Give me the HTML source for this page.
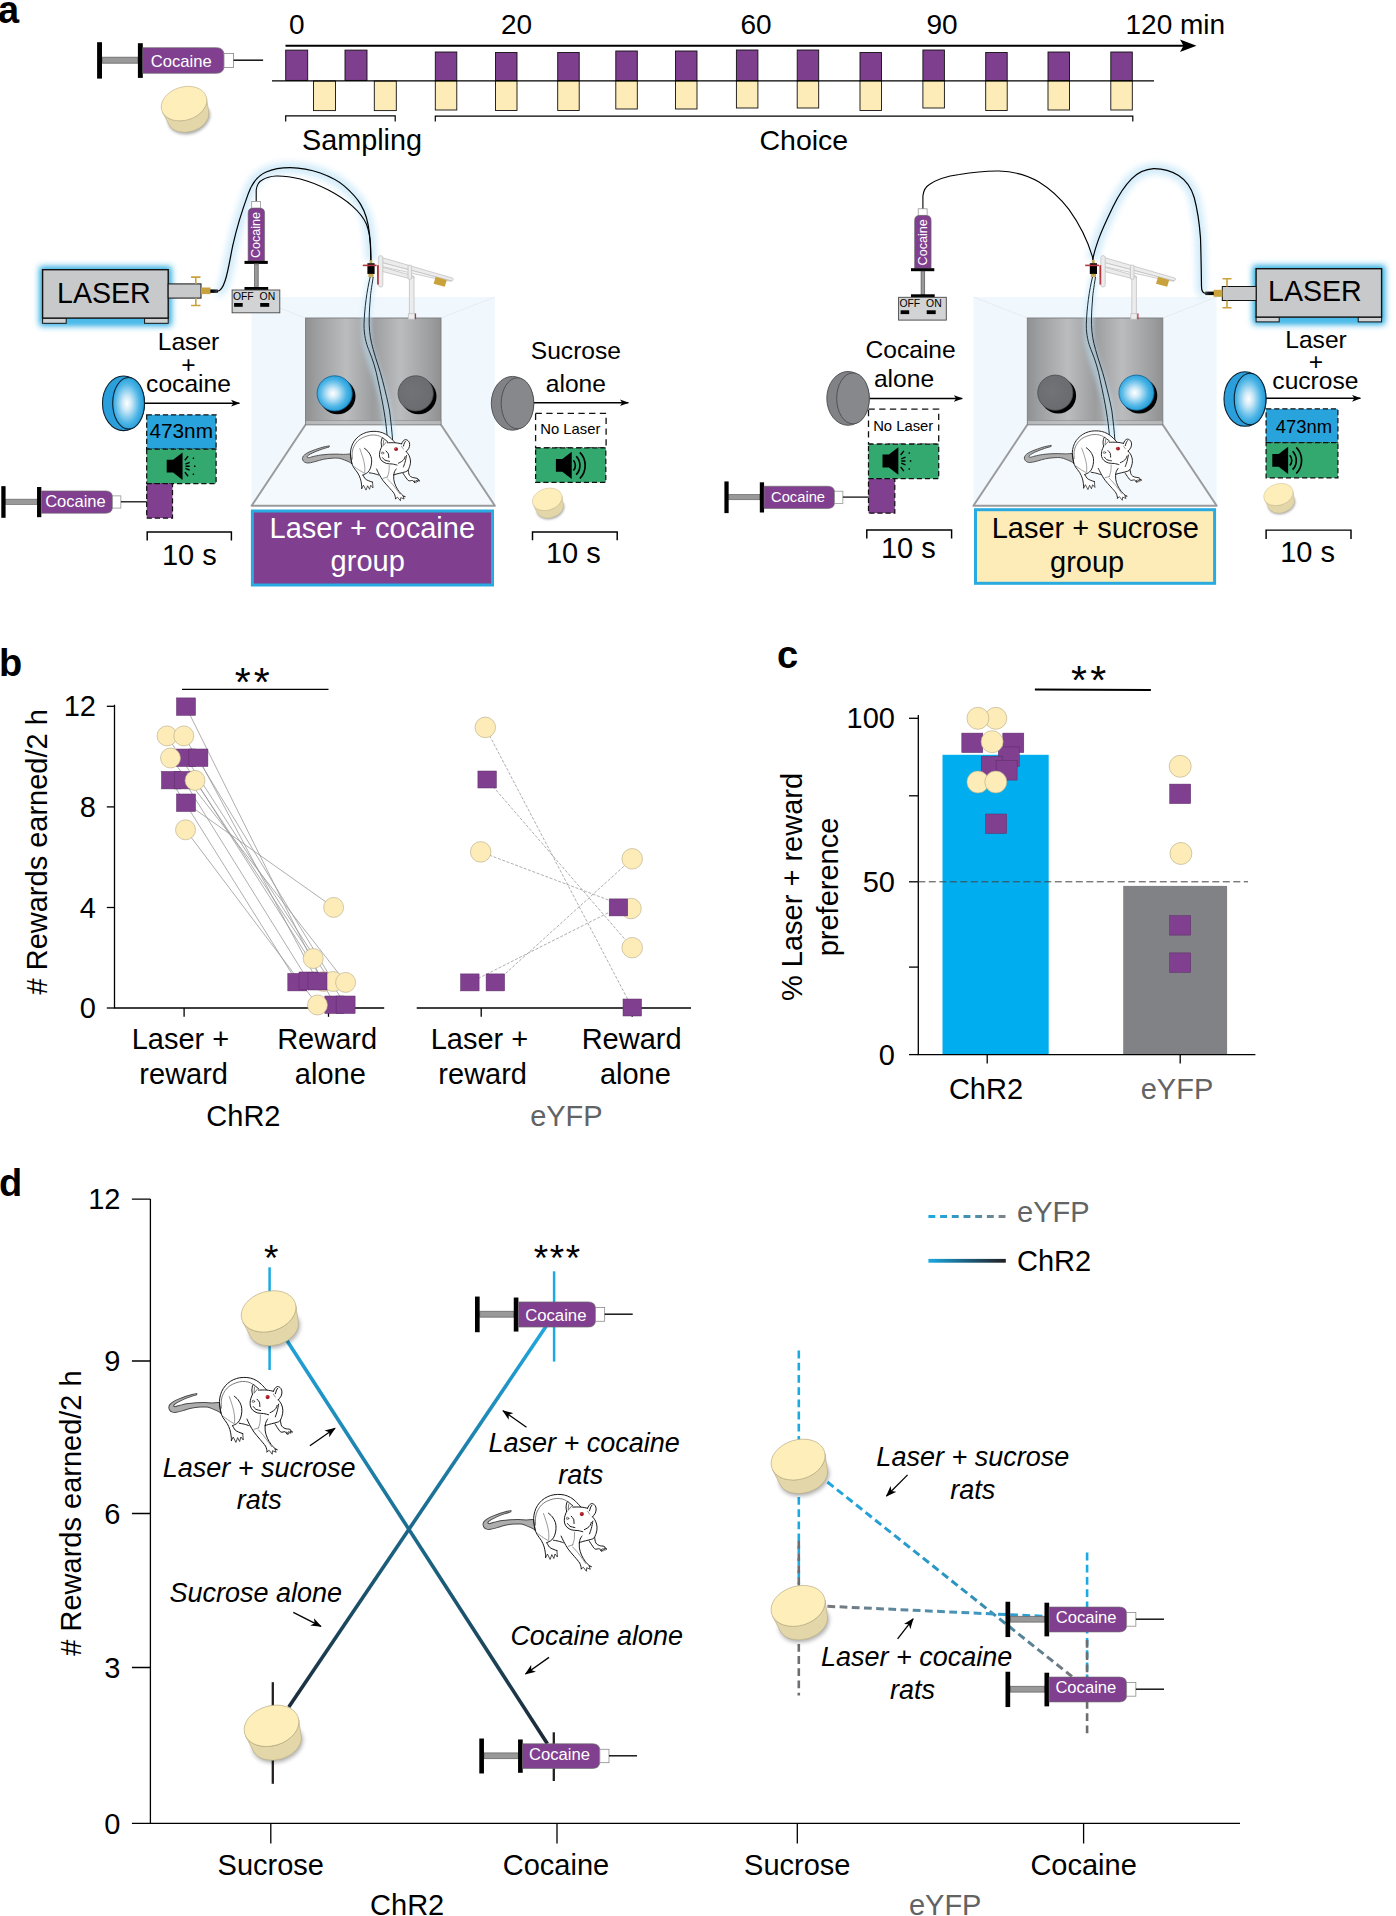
<!DOCTYPE html>
<html lang="en">
<head>
<meta charset="utf-8">
<title>Figure</title>
<style>
html,body{margin:0;padding:0;background:#fff;}
body{width:1396px;height:1916px;overflow:hidden;}
svg{display:block;}
text{font-family:"Liberation Sans",Arial,Helvetica,sans-serif;fill:#000;}
.t28{font-size:29px;}
.lbl{font-size:38px;font-weight:bold;}
.it{font-size:27px;font-style:italic;}
.gray{fill:#626365;}
</style>
</head>
<body>
<svg width="1396" height="1916" viewBox="0 0 1396 1916">
<defs>
<filter id="glow" x="-30%" y="-30%" width="160%" height="160%"><feGaussianBlur stdDeviation="3.2"/></filter>
<filter id="glow2" x="-50%" y="-50%" width="200%" height="200%"><feGaussianBlur stdDeviation="2.2"/></filter>
<filter id="sh" x="-30%" y="-30%" width="160%" height="160%"><feGaussianBlur stdDeviation="1.6"/></filter>
<linearGradient id="metal" x1="0" y1="0" x2="1" y2="0">
<stop offset="0" stop-color="#8f9092"/><stop offset="0.08" stop-color="#9d9ea0"/><stop offset="0.3" stop-color="#bbbcbe"/><stop offset="0.5" stop-color="#9c9d9f"/><stop offset="0.7" stop-color="#bbbcbe"/><stop offset="0.92" stop-color="#9d9ea0"/><stop offset="1" stop-color="#8f9092"/>
</linearGradient>
<radialGradient id="bball" cx="0.45" cy="0.5" r="0.55"><stop offset="0" stop-color="#ffffff"/><stop offset="0.25" stop-color="#cfeaf8"/><stop offset="0.7" stop-color="#4db5e6"/><stop offset="1" stop-color="#1e9ad6"/></radialGradient>
<radialGradient id="gball" cx="0.4" cy="0.45" r="0.6"><stop offset="0" stop-color="#727376"/><stop offset="1" stop-color="#6a6b6e"/></radialGradient>
<linearGradient id="gBlueDark" gradientUnits="userSpaceOnUse" x1="0" y1="1325" x2="0" y2="1745"><stop offset="0" stop-color="#22a7e0"/><stop offset="0.45" stop-color="#1b7296"/><stop offset="1" stop-color="#1d2733"/></linearGradient>

<g id="syr">
<rect x="5" y="-3" width="36" height="6" fill="#999" stroke="#666" stroke-width="0.8"/>
<rect x="0" y="-18" width="4.9" height="36.4" fill="#000"/>
<rect x="40.8" y="-17" width="4.9" height="34.7" fill="#000"/>
<path d="M45.7,-12.5 H119.4 Q126.9,-12.5 126.9,-5 V5.6 Q126.9,13.1 119.4,13.1 H45.7 Z" fill="#803f8f" stroke="#6a6a6a" stroke-width="0.7"/>
<rect x="126.9" y="-6.8" width="9.6" height="14" fill="#fff" stroke="#888" stroke-width="0.8"/>
<line x1="136.5" y1="0" x2="166" y2="0" stroke="#111" stroke-width="1.5"/>
</g>
<g id="vsyr">
<rect x="3.6" y="-6.6" width="8.9" height="6.8" fill="#fff" stroke="#888" stroke-width="0.7"/>
<path d="M0,52.8 V5 Q0,0 5,0 H11.5 Q16.5,0 16.5,5 V52.8 Z" fill="#803f8f" stroke="#6a6a6a" stroke-width="0.6"/>
<rect x="-3.6" y="52.8" width="23.3" height="3" fill="#000"/>
<rect x="6.5" y="55.8" width="3.6" height="23.4" fill="#999" stroke="#555" stroke-width="0.7"/>
<rect x="-3.6" y="78.9" width="23.7" height="3.2" fill="#000"/>
<rect x="-16" y="81.9" width="47.7" height="22.8" fill="#d1d3d4" stroke="#444" stroke-width="0.9"/>
<text x="-15.2" y="91.8" style="font-size:10.4px">OFF</text>
<text x="11.5" y="91.8" style="font-size:10.4px">ON</text>
<rect x="-14" y="94.9" width="8.6" height="3.8" fill="#000"/>
<rect x="12.1" y="94.9" width="9" height="3.8" fill="#000"/>
<text transform="translate(12.3,50) rotate(-90)" style="font-size:12.6px;fill:#fff">Cocaine</text>
</g>
<g id="pellet">
<ellipse cx="5.1" cy="14.7" rx="21.47" ry="15.44" transform="rotate(-17.0 5.1 14.7)" fill="#000" opacity="0.33" filter="url(#sh)"/>
<path d="M22.67,-5.08 L24.71,8.63 A20.97,14.94 -17.0 0 1 -15.00,21.17 L-21.44,8.85 A23.3,16.6 -17.0 0 0 22.67,-5.08 Z" fill="#e3d6a9" stroke="#b3a780" stroke-width="0.5"/>
<ellipse cx="0" cy="0" rx="23.3" ry="16.6" transform="rotate(-17.0)" fill="#fdeeba" stroke="#b3a780" stroke-width="0.5"/>
</g>
<g id="rat" stroke-linecap="round" stroke-linejoin="round">
<path d="M605,478 C603,465 594,425 592,400 C590,375 591,353 595,330 C599,307 606,281 615,260 C624,239 636,222 650,205 C664,188 682,172 700,160 C718,148 738,137 760,130 C782,123 807,119 830,118 C853,117 878,120 900,125 C922,130 942,139 960,150 C978,161 993,174 1010,190 C1027,206 1041,232 1062,245 C1083,258 1121,270 1135,268 C1149,266 1139,244 1145,235 C1151,226 1161,217 1170,215 C1179,213 1192,217 1200,225 C1208,233 1215,250 1215,265 C1215,280 1203,303 1200,315 C1197,327 1192,324 1195,335 C1198,346 1210,362 1215,380 C1220,398 1227,418 1228,440 C1229,462 1227,492 1222,510 C1217,528 1200,533 1200,550 C1200,567 1215,597 1225,610 C1235,623 1248,625 1260,630 C1272,635 1291,633 1300,640 C1309,647 1315,662 1315,670 C1315,678 1308,682 1300,685 C1292,688 1280,692 1270,690 C1260,688 1249,680 1240,675 C1231,670 1225,668 1215,660 C1205,652 1191,642 1180,630 C1169,618 1163,597 1150,590 C1137,583 1118,588 1100,590 C1082,592 1052,592 1045,605 C1038,618 1048,648 1055,670 C1062,692 1074,718 1085,740 C1096,762 1109,786 1120,800 C1131,814 1142,817 1150,825 C1158,833 1170,842 1170,850 C1170,858 1160,869 1150,875 C1140,881 1124,889 1110,885 C1096,881 1077,862 1065,850 C1053,838 1052,827 1040,810 C1028,793 1007,772 990,750 C973,728 955,703 940,680 C925,657 908,622 900,610 C892,598 898,608 890,605 C882,602 867,599 850,595 C833,591 803,582 790,580 C777,578 781,580 770,585 C759,590 728,597 725,608 C722,619 739,638 750,650 C761,662 778,675 790,680 C802,685 818,670 825,680 C832,690 835,726 830,740 C825,754 808,760 795,765 C782,770 768,772 755,770 C742,768 722,762 715,750 C708,738 713,718 710,700 C707,682 702,658 695,640 C688,622 681,608 670,590 C659,572 637,540 630,530 Z" fill="#fff" stroke="none"/>
<path d="M367,285 C361,286 348,288 330,292 C312,296 283,304 260,312 C237,320 212,329 190,338 C168,347 145,358 130,368 C115,378 105,386 98,395 C91,404 88,416 88,425 C88,434 92,444 98,452 C104,460 115,467 125,470 C135,473 142,474 160,472 C178,470 205,462 230,455 C255,448 282,438 310,432 C338,426 373,422 400,420 C427,418 448,417 470,420 C492,423 512,433 530,440 C548,447 567,455 580,462 C593,469 603,477 608,480 L592,373 C580,374 545,378 520,378 C495,378 467,375 440,375 C413,375 387,375 360,377 C333,379 307,381 280,385 C253,389 221,397 200,402 C179,407 165,414 155,415 C145,416 140,413 138,410 C136,407 135,404 140,398 C145,392 155,384 170,375 C185,366 208,354 230,345 C252,336 278,326 300,318 C322,310 354,301 365,298 Z" fill="#adadad" stroke="#4a4a4a" stroke-width="10"/>
<path d="M608,480 C606,467 596,425 594,400 C592,375 592,353 596,330 C600,307 607,282 616,262 C625,242 638,224 652,207 C666,190 684,175 702,163 C720,151 741,142 762,135 C783,128 807,125 830,124 C853,123 878,125 900,130 C922,135 942,144 960,154 C978,164 993,176 1010,192 C1027,208 1053,238 1062,247 M922,293 C921,286 915,266 916,250 C917,234 922,202 928,196 C934,190 946,208 955,214 C964,220 978,232 982,235 M982,250 C996,250 1039,248 1064,250 C1089,252 1120,260 1131,262 M1131,262 C1134,257 1139,240 1146,232 C1153,224 1164,215 1174,215 C1184,215 1197,223 1204,232 C1211,241 1216,255 1216,268 C1216,281 1213,298 1207,311 C1201,324 1184,341 1180,347 M1150,287 C1152,281 1158,259 1162,250 C1166,241 1172,235 1174,232 M922,293 C918,303 904,334 901,353 C898,372 897,392 901,408 C905,424 913,439 925,451 C937,463 955,472 973,478 C991,484 1016,481 1034,484 C1052,487 1075,494 1083,496 M931,414 C935,418 943,434 955,441 C967,448 996,452 1004,454 M967,341 C971,346 987,360 992,372 C997,384 994,407 995,414 M1098,475 C1104,472 1121,464 1131,457 C1141,450 1150,441 1156,432 C1162,423 1166,407 1168,402 M1180,347 C1185,354 1202,373 1210,390 C1218,407 1224,431 1225,451 C1226,471 1222,493 1216,511 C1210,529 1204,549 1192,560 C1180,571 1161,572 1143,578 C1125,584 1099,588 1083,593 C1067,598 1052,603 1046,605 M1183,390 C1180,402 1174,442 1168,463 C1162,484 1153,508 1150,517 M740,311 C746,317 768,332 779,347 C790,362 803,383 809,402 C815,421 817,442 816,463 C815,484 810,511 803,530 C796,549 786,566 773,578 C760,590 732,600 724,605 M608,480 C611,487 617,506 627,523 C637,540 658,564 670,584 C682,604 690,625 697,645 C704,665 706,688 709,706 C712,724 712,746 712,754 M724,605 C728,612 739,637 749,648 C759,659 772,663 785,669 C798,675 818,682 825,684 M791,581 C799,582 824,586 840,590 C856,594 880,602 888,605 M867,539 C872,548 882,574 894,596 C906,618 920,645 937,669 C954,693 979,719 998,742 C1017,765 1040,789 1052,809 C1064,829 1065,854 1068,863 M1074,539 C1070,546 1056,564 1052,584 C1048,604 1046,633 1049,657 C1052,681 1061,708 1071,730 C1081,752 1094,774 1107,791 C1120,808 1140,826 1146,833 M1201,554 C1203,563 1205,595 1213,608 C1221,621 1233,627 1247,633 C1261,639 1284,637 1295,642 C1306,647 1312,660 1315,663 M1146,587 C1152,596 1170,625 1180,639 C1190,653 1196,664 1207,669 C1218,674 1237,662 1247,666 C1257,670 1264,686 1268,690" fill="none" stroke="#111" stroke-width="9.8"/>
<path d="M612,430 C612,417 609,374 612,350 C615,326 622,305 632,285 C642,265 657,243 672,228 C687,213 702,203 722,193 C742,183 770,173 791,168 C812,163 832,164 850,165 C868,166 886,171 900,177 C914,183 929,196 935,200 M943,220 L937,281 M973,238 L943,275" fill="none" stroke="#333" stroke-width="6.5"/>
<path d="M691,314 C696,331 715,382 724,414 C733,446 740,478 743,505 C746,532 743,566 743,578 M633,514 C642,521 671,542 688,554 C705,566 729,579 737,584 M1001,499 C1000,510 1001,545 998,566 C995,587 985,617 982,627 M937,642 L982,627 M982,648 C991,658 1017,685 1034,706 C1051,727 1070,754 1083,772 C1096,790 1108,808 1113,815 M1130,290 L1150,320" fill="none" stroke="#555" stroke-width="6"/>
<path d="M712,754 L730,718 L757,772 L774,724 L794,763 L806,718 L830,748 L825,684 M1068,863 L1064,870 L1088,850 L1119,890 L1122,855 L1158,870 L1146,842 L1171,845 L1146,833 M1268,690 L1262,668 L1285,690 L1284,662 L1303,682 L1300,655 L1318,675 L1315,663" fill="none" stroke="#111" stroke-width="7.5"/>
<ellipse cx="931" cy="363" rx="13" ry="11" fill="#fff" stroke="#333" stroke-width="6"/><circle cx="927" cy="359" r="5" fill="#555"/>
<circle cx="1073" cy="320" r="21" fill="#a81822"/>
<circle cx="1066" cy="312" r="6" fill="#d9707a"/>
</g>
<g id="spkL"><g transform="scale(1.07)">
<path d="M0,-6 H6 L14.8,-12.8 V12.8 L6,6 H0 Z" fill="#000"/>
<path d="M16.3,-4.8 A7,7 0 0 1 16.3,4.8 M19,-8.6 A12.5,12.5 0 0 1 19,8.6 M22.4,-12.2 A17.5,17.5 0 0 1 22.4,12.2" fill="none" stroke="#000" stroke-width="1.55"/>
</g></g>
<g id="spkQ"><g transform="scale(1.07)">
<path d="M0,-6 H6 L14.8,-12.8 V12.8 L6,6 H0 Z" fill="#000"/>
<path d="M17.5,-2 L21.5,-3.6 M17.5,2 L21.5,3.6 M17,-5.6 L20,-9.4 M17,5.6 L20,9.4 M17.6,0 H21.5 M25.5,0 h1.4 M24.5,-7 l0.9,-1 M24.5,7 l0.9,1" fill="none" stroke="#000" stroke-width="1.3"/>
</g></g>
<g id="discB">
<ellipse cx="0" cy="0" rx="21" ry="27.3" fill="#2b9fdc" stroke="#0b2231" stroke-width="1.1"/>
<ellipse cx="5.1" cy="0" rx="15.9" ry="25.8" fill="url(#bball)" stroke="#0b2231" stroke-width="1.1"/>
</g>
<g id="discG">
<ellipse cx="0" cy="0" rx="21.2" ry="26.9" fill="#808285" stroke="#4a4b4e" stroke-width="0.9"/>
<ellipse cx="5" cy="0" rx="16.3" ry="25.5" fill="#86888b" stroke="#4a4b4e" stroke-width="0.9"/>
</g>
<marker id="ah" viewBox="0 0 12 10" refX="11" refY="5" markerWidth="9.5" markerHeight="7.6" markerUnits="userSpaceOnUse" orient="auto"><path d="M0,0.6 L12,5 L0,9.4 L3,5 Z" fill="#000"/></marker>
<marker id="ah2" viewBox="0 0 12 10" refX="11" refY="5" markerWidth="11" markerHeight="9" markerUnits="userSpaceOnUse" orient="auto"><path d="M0,0.4 L12,5 L0,9.6 L3.2,5 Z" fill="#000"/></marker>
</defs>
<rect x="0" y="0" width="1396" height="1916" fill="#fff"/>
<g id="timeline">
<text x="289" y="34" class="t28" style="font-size:28px">0</text>
<text x="501" y="34" class="t28" style="font-size:28px">20</text>
<text x="740.5" y="34" class="t28" style="font-size:28px">60</text>
<text x="926.5" y="34" class="t28" style="font-size:28px">90</text>
<text x="1125.5" y="34" class="t28" style="font-size:28px">120 min</text>
<line x1="285.5" y1="45.8" x2="1184" y2="45.8" stroke="#000" stroke-width="2"/>
<path d="M1196.5 45.8 L1180 39.6 L1183.5 45.8 L1180 52 Z" fill="#000"/>
<rect x="285.7" y="50.1" width="22" height="30.3" fill="#7f3f8f" stroke="#111" stroke-width="0.9"/>
<rect x="345" y="50.1" width="22" height="30.3" fill="#7f3f8f" stroke="#111" stroke-width="0.9"/>
<rect x="313.5" y="81" width="22" height="29.6" fill="#fdecb8" stroke="#111" stroke-width="0.9"/>
<rect x="374.3" y="81" width="22" height="29.6" fill="#fdecb8" stroke="#111" stroke-width="0.9"/>
<rect x="435.3" y="52" width="21.5" height="28.6" fill="#7f3f8f" stroke="#111" stroke-width="0.9"/>
<rect x="435.3" y="80.8" width="21.5" height="29.2" fill="#fdecb8" stroke="#111" stroke-width="0.9"/>
<rect x="495.5" y="52.5" width="21.5" height="28.1" fill="#7f3f8f" stroke="#111" stroke-width="0.9"/>
<rect x="495.5" y="80.8" width="21.5" height="29.7" fill="#fdecb8" stroke="#111" stroke-width="0.9"/>
<rect x="557.7" y="52.5" width="21.5" height="28.1" fill="#7f3f8f" stroke="#111" stroke-width="0.9"/>
<rect x="557.7" y="80.8" width="21.5" height="29.7" fill="#fdecb8" stroke="#111" stroke-width="0.9"/>
<rect x="615.8" y="51" width="21.5" height="29.6" fill="#7f3f8f" stroke="#111" stroke-width="0.9"/>
<rect x="615.8" y="80.8" width="21.5" height="28.2" fill="#fdecb8" stroke="#111" stroke-width="0.9"/>
<rect x="675.5" y="51" width="21.5" height="29.6" fill="#7f3f8f" stroke="#111" stroke-width="0.9"/>
<rect x="675.5" y="80.8" width="21.5" height="28.2" fill="#fdecb8" stroke="#111" stroke-width="0.9"/>
<rect x="736.4" y="50" width="21.5" height="30.6" fill="#7f3f8f" stroke="#111" stroke-width="0.9"/>
<rect x="736.4" y="80.8" width="21.5" height="27.2" fill="#fdecb8" stroke="#111" stroke-width="0.9"/>
<rect x="797.2" y="50" width="21.5" height="30.6" fill="#7f3f8f" stroke="#111" stroke-width="0.9"/>
<rect x="797.2" y="80.8" width="21.5" height="27.2" fill="#fdecb8" stroke="#111" stroke-width="0.9"/>
<rect x="860" y="52.5" width="21.5" height="28.1" fill="#7f3f8f" stroke="#111" stroke-width="0.9"/>
<rect x="860" y="80.8" width="21.5" height="29.7" fill="#fdecb8" stroke="#111" stroke-width="0.9"/>
<rect x="922.9" y="50" width="21.5" height="30.6" fill="#7f3f8f" stroke="#111" stroke-width="0.9"/>
<rect x="922.9" y="80.8" width="21.5" height="27.2" fill="#fdecb8" stroke="#111" stroke-width="0.9"/>
<rect x="985.7" y="52.5" width="21.5" height="28.1" fill="#7f3f8f" stroke="#111" stroke-width="0.9"/>
<rect x="985.7" y="80.8" width="21.5" height="29.7" fill="#fdecb8" stroke="#111" stroke-width="0.9"/>
<rect x="1048" y="52" width="21.5" height="28.6" fill="#7f3f8f" stroke="#111" stroke-width="0.9"/>
<rect x="1048" y="80.8" width="21.5" height="29.2" fill="#fdecb8" stroke="#111" stroke-width="0.9"/>
<rect x="1110.8" y="52" width="21.5" height="28.6" fill="#7f3f8f" stroke="#111" stroke-width="0.9"/>
<rect x="1110.8" y="80.8" width="21.5" height="29.2" fill="#fdecb8" stroke="#111" stroke-width="0.9"/>
<line x1="272" y1="80.8" x2="1154" y2="80.8" stroke="#000" stroke-width="1.3"/>
<path d="M285.7 121.5 V115.8 H395.2 V121.5" fill="none" stroke="#000" stroke-width="1.2"/>
<path d="M435.3 121.5 V116.2 H1132.8 V121.5" fill="none" stroke="#000" stroke-width="1.2"/>
<text x="302" y="149.6" class="t28" style="font-size:28.8px">Sampling</text>
<text x="759.5" y="149.6" class="t28" style="font-size:28.5px">Choice</text>
</g>
<g id="topsyr">
<use href="#syr" x="97.1" y="60.2"/>
<text x="150.8" y="66.5" style="font-size:16.6px;fill:#fff">Cocaine</text>
<use href="#pellet" x="184" y="103.6"/>
</g>
<!-- chamber (left), reused on the right with dx=721.8 -->
<g id="chamber">
<rect x="251.6" y="297" width="243.3" height="209" fill="#f1f8fd"/>
<path d="M251.6,297 L305.5,318 M494.9,297 L441,318" stroke="#e3e9ee" stroke-width="0.8" fill="none"/>
<path d="M305.5,424.8 L251.6,505.8 H494.9 L441,424.8" fill="#f4f9fd" stroke="#9a9b9d" stroke-width="2" stroke-linejoin="round"/>
<rect x="305.5" y="318" width="135.5" height="106.8" fill="url(#metal)" stroke="#7b7c7e" stroke-width="0.9"/>
<rect x="305.5" y="420.3" width="135.5" height="4.5" fill="#bfc0c2" opacity="0.8" stroke="#7b7c7e" stroke-width="0.6"/>
</g>
<g id="lever">
<!-- lever arm -->
<g fill="#ececec" stroke="#c2c2c4" stroke-width="0.8" stroke-linejoin="round">
<path d="M382,257.6 L452.8,278.2 Q454,280.2 451.5,281 L382,262.6 Z"/>
<path d="M382,262.6 L451.5,281 L445,280.6 L382,266.6 Z" fill="#f4f4f4"/>
<path d="M382,267 L413.5,276 Q415,278 413,279.4 L382,271.4 Z"/>
<rect x="378.4" y="255.6" width="4.4" height="31.4" rx="2.2"/>
<rect x="409.4" y="277" width="4.6" height="37.5"/>
<rect x="408" y="265.2" width="3.6" height="14" rx="1"/>
<rect x="408.4" y="313.6" width="6.1" height="5.6"/>
</g>
<rect x="414.9" y="313.4" width="1.2" height="5.8" fill="#b5333a"/>
<rect x="-5.8" y="-3.6" width="11.6" height="7.2" transform="translate(440.2,281.8) rotate(16)" fill="#c9a23c"/>
<!-- head connector -->
<rect x="369.5" y="260" width="2.8" height="3.6" fill="#c9a23c"/>
<rect x="367.4" y="263.2" width="7.2" height="10.8" fill="#000"/>
<rect x="362.8" y="264.6" width="13.8" height="1.6" fill="#b5333a"/>
<rect x="368.4" y="273.9" width="5.2" height="3.4" fill="#c9a23c"/>
<rect x="377" y="265.2" width="1.8" height="19.4" fill="#b5333a"/>
</g>
<g id="tubes">
<path d="M371.6,277 C368,300 364.5,318 367,340 C370,362 381,380 385.5,405 C388,420 389.5,430 390,438" fill="none" stroke="#bfe6fa" stroke-width="10" opacity="0.5" filter="url(#glow2)"/>
<path d="M370.2,277 C367,290 364.5,308 364,324.7 C364,335 366,343 368.6,349.4 C373,360 376,370 377.9,380.2 C380.5,392 382.5,402 384,411 C385.5,420 386.5,428 387.1,435.6" fill="none" stroke="#1c2b33" stroke-width="1"/>
<path d="M373.2,277 C371.5,288 370.3,295 370.2,300 C369.5,308 369,316 369.2,324.7 C369.5,334 371,342 373.2,349.4 C376,360 380,370 382.5,380.2 C385.5,392 388,402 389.6,411 C391,422 392,432 392.6,440.2" fill="none" stroke="#1c2b33" stroke-width="1"/>
</g>
<use href="#chamber" x="721.8"/>
<use href="#lever" x="722.4"/>
<use href="#tubes" x="722.3"/>
<!-- balls left chamber -->
<circle cx="337.6" cy="396.4" r="17.9" fill="#000"/>
<circle cx="334.7" cy="393.4" r="17.6" fill="url(#bball)" stroke="#0e5f8f" stroke-width="0.8"/>
<circle cx="418.6" cy="396.4" r="17.9" fill="#000"/>
<circle cx="415.7" cy="393.4" r="17.6" fill="url(#gball)" stroke="#4a4b4d" stroke-width="0.8"/>
<!-- balls right chamber -->
<circle cx="1058.2" cy="395.7" r="17.9" fill="#000"/>
<circle cx="1055.3" cy="392.7" r="17.6" fill="url(#gball)" stroke="#4a4b4d" stroke-width="0.8"/>
<circle cx="1139.4" cy="395.7" r="17.9" fill="#000"/>
<circle cx="1136.5" cy="392.7" r="17.6" fill="url(#bball)" stroke="#0e5f8f" stroke-width="0.8"/>
<!-- rats -->
<use href="#rat" transform="translate(294.1,420.1) scale(0.09504,0.0907)"/>
<use href="#rat" transform="translate(1016,419.6) scale(0.09504,0.0907)"/>
<!-- group labels -->
<rect x="252.4" y="511" width="240.1" height="74" fill="#803f8f" stroke="#29abe2" stroke-width="3"/>
<text x="372.3" y="537.5" text-anchor="middle" style="font-size:29px;fill:#fff">Laser + cocaine</text>
<text x="367.7" y="571.3" text-anchor="middle" style="font-size:29px;fill:#fff">group</text>
<rect x="975.5" y="509.7" width="239.1" height="73.6" fill="#fdecb8" stroke="#29abe2" stroke-width="3"/>
<text x="1095.2" y="538" text-anchor="middle" style="font-size:29px">Laser + sucrose</text>
<text x="1087.1" y="572.3" text-anchor="middle" style="font-size:29px">group</text>

<!-- LASER left -->
<g id="laserL">
<rect x="39.5" y="266.5" width="132" height="59.5" fill="#29abe2" filter="url(#glow)"/>
<rect x="42" y="269" width="127" height="54" fill="#5cc3ee" opacity="0.7" filter="url(#glow2)"/>
<rect x="42.6" y="318" width="23.6" height="5.3" fill="#d0d1d3" stroke="#111" stroke-width="1"/>
<rect x="144.6" y="318" width="23.6" height="5.3" fill="#d0d1d3" stroke="#111" stroke-width="1"/>
<rect x="42.6" y="269.7" width="125.6" height="48.4" fill="#c8c9cb" stroke="#111" stroke-width="1.4"/>
<rect x="168.2" y="283.9" width="32.8" height="14.2" fill="#c8c9cb" stroke="#111" stroke-width="1"/>
<rect x="201" y="287.5" width="9.5" height="6.6" fill="#c9a23c"/>
<rect x="210.3" y="289.4" width="7.6" height="3.5" fill="#000"/>
<path d="M191.1,277.1 H200.5 M195.8,277.1 V283.9 M195.8,298.1 V305.5 M191.1,305.5 H200.5" stroke="#c9a23c" stroke-width="1.6" fill="none"/>
<text x="57" y="302.9" style="font-size:28.6px">LASER</text>
</g>
<!-- LASER right -->
<g id="laserR">
<rect x="1253" y="265.5" width="132" height="59" fill="#29abe2" filter="url(#glow)"/>
<rect x="1255.5" y="268" width="127" height="54" fill="#5cc3ee" opacity="0.7" filter="url(#glow2)"/>
<rect x="1256.1" y="317" width="23.1" height="4.9" fill="#d0d1d3" stroke="#111" stroke-width="1"/>
<rect x="1358.2" y="317" width="23.4" height="4.9" fill="#d0d1d3" stroke="#111" stroke-width="1"/>
<rect x="1256.1" y="268.7" width="125.5" height="48.4" fill="#c8c9cb" stroke="#111" stroke-width="1.4"/>
<rect x="1222.3" y="286.5" width="33.8" height="14" fill="#c8c9cb" stroke="#111" stroke-width="1"/>
<rect x="1213.6" y="289.8" width="8.8" height="7" fill="#c9a23c"/>
<rect x="1205.2" y="291.6" width="8.6" height="3.5" fill="#000"/>
<path d="M1222.5,278.7 H1231.5 M1227,278.7 V286.5 M1227,300.5 V307.7 M1222.5,307.7 H1231.5" stroke="#c9a23c" stroke-width="1.6" fill="none"/>
<text x="1268" y="300.6" style="font-size:28.6px">LASER</text>
</g>
<!-- fiber left with glow -->
<path d="M217,291.3 C226,291.5 229,262 233.1,244.2 C238,222 243,208 248.1,194.1 C252,183 258,175.5 266.2,172 C274,168.5 282,167.6 290.3,167.6 C301,167.8 311,169.8 320.3,173 C329,176.2 338,180.5 344.4,186.1 C351,191.8 356.5,197.5 360.5,204.1 C366,213 368.5,224 369.5,234.2 C370.4,243 370.8,251 370.9,260.3" fill="none" stroke="#b5e0f7" stroke-width="11" opacity="0.6" filter="url(#glow)"/>
<path d="M217,291.3 C226,291.5 229,262 233.1,244.2 C238,222 243,208 248.1,194.1 C252,183 258,175.5 266.2,172 C274,168.5 282,167.6 290.3,167.6 C301,167.8 311,169.8 320.3,173 C329,176.2 338,180.5 344.4,186.1 C351,191.8 356.5,197.5 360.5,204.1 C366,213 368.5,224 369.5,234.2 C370.4,243 370.8,251 370.9,260.3" fill="none" stroke="#000" stroke-width="1.2"/>
<!-- infusion tube left -->
<path d="M256.2,201.5 V190 C257,184 259,181.5 262.2,180 C266,177.5 271,176.2 276.2,176 C284,175.8 292,177 300.3,179 C310,181.5 319.5,185.5 328.4,190 C337,194.5 345.5,199.8 352.4,206.1 C358.5,211.5 363.5,217.5 366.5,224.2 C369,231 370,237.5 370.5,244.2 C370.8,249.5 370.8,255 370.8,260" fill="none" stroke="#000" stroke-width="1.1"/>
<use href="#vsyr" x="248.1" y="208.1"/>
<!-- fiber right with glow -->
<path d="M1205.5,293.4 C1201.5,293 1201.5,289 1201.5,286.5 C1201.3,270 1201,254 1200.5,238.1 C1199.5,224 1197.5,210 1194.2,197.5 C1191,187 1185.5,180 1178.6,175.6 C1171,170.8 1162,168.6 1153.6,168.7 C1145,169.2 1138,172.5 1131.8,178.7 C1124,186.5 1118,196.5 1113,206.8 C1108,217.2 1103,227.5 1099,238.1 C1096.5,245 1094,252 1092.7,259.9" fill="none" stroke="#b5e0f7" stroke-width="11" opacity="0.6" filter="url(#glow)"/>
<path d="M1205.5,293.4 C1201.5,293 1201.5,289 1201.5,286.5 C1201.3,270 1201,254 1200.5,238.1 C1199.5,224 1197.5,210 1194.2,197.5 C1191,187 1185.5,180 1178.6,175.6 C1171,170.8 1162,168.6 1153.6,168.7 C1145,169.2 1138,172.5 1131.8,178.7 C1124,186.5 1118,196.5 1113,206.8 C1108,217.2 1103,227.5 1099,238.1 C1096.5,245 1094,252 1092.7,259.9" fill="none" stroke="#000" stroke-width="1.2"/>
<!-- infusion tube right -->
<path d="M922.9,209 V196 C923.5,190 926,186.5 929.4,184.5 C938,178.5 948,176 959.3,174.5 C972,172.3 986,170.8 999.1,171 C1013,171.5 1027,175 1039,182 C1050.5,189 1060.5,198.5 1068.9,209.4 C1078,222 1087,237 1093.2,259.5" fill="none" stroke="#000" stroke-width="1.1"/>
<use href="#vsyr" x="914.6" y="215.4"/>

<!-- left of left chamber: Laser + cocaine -->
<g class="s24">
<text x="188.5" y="349.8" text-anchor="middle" style="font-size:24.6px">Laser</text>
<text x="188.5" y="373" text-anchor="middle" style="font-size:24.6px">+</text>
<text x="188.5" y="392.2" text-anchor="middle" style="font-size:24.6px">cocaine</text>
</g>
<line x1="144" y1="403.2" x2="239.4" y2="403.2" stroke="#000" stroke-width="1.6" marker-end="url(#ah)"/>
<use href="#discB" x="123.5" y="403.3"/>
<rect x="146.7" y="414.8" width="69.4" height="34.3" fill="#29a3dc" stroke="#111" stroke-width="1.25" stroke-dasharray="5.2 2.9"/>
<rect x="146.7" y="449.1" width="69.4" height="34.4" fill="#33a86f" stroke="#111" stroke-width="1.25" stroke-dasharray="5.2 2.9"/>
<rect x="146.7" y="483.5" width="25.8" height="34.6" fill="#803f8f" stroke="#111" stroke-width="1.25" stroke-dasharray="5.2 2.9"/>
<text x="149.4" y="438" style="font-size:20.8px">473nm</text>
<use href="#spkQ" x="166.7" y="466.2"/>
<use href="#syr" transform="translate(1.3,501.8) scale(0.876,0.87)"/>
<text x="45.2" y="507.2" style="font-size:16.5px;fill:#fff">Cocaine</text>
<path d="M147.2,540.6 V531.9 H231.4 V540.6" fill="none" stroke="#000" stroke-width="1.45"/>
<text x="189.3" y="565.2" text-anchor="middle" class="t28">10 s</text>
<!-- right of left chamber: Sucrose alone -->
<text x="575.9" y="358.8" text-anchor="middle" style="font-size:24.6px">Sucrose</text>
<text x="575.9" y="391.8" text-anchor="middle" style="font-size:24.6px">alone</text>
<line x1="533" y1="402.7" x2="628.3" y2="402.7" stroke="#000" stroke-width="1.6" marker-end="url(#ah)"/>
<use href="#discG" x="512.5" y="403.3"/>
<rect x="535.6" y="413.4" width="70.5" height="34.4" fill="#fff" stroke="#111" stroke-width="1.3" stroke-dasharray="6.3 4.4"/>
<rect x="535.6" y="447.9" width="70.2" height="34.5" fill="#33a86f" stroke="#111" stroke-width="1.25" stroke-dasharray="5.2 2.9"/>
<text x="540.3" y="434.2" style="font-size:14.8px">No Laser</text>
<use href="#spkL" x="555.9" y="465.4"/>
<use href="#pellet" transform="translate(547.2,499.3) scale(0.654)"/>
<path d="M532.5,540.3 V532 H617.2 V540.3" fill="none" stroke="#000" stroke-width="1.45"/>
<text x="573.4" y="562.5" text-anchor="middle" class="t28">10 s</text>
<!-- left of right chamber: Cocaine alone -->
<text x="910.6" y="357.6" text-anchor="middle" style="font-size:24.6px">Cocaine</text>
<text x="904" y="387.2" text-anchor="middle" style="font-size:24.6px">alone</text>
<line x1="868" y1="398.5" x2="962.2" y2="398.5" stroke="#000" stroke-width="1.6" marker-end="url(#ah)"/>
<use href="#discG" x="848" y="398.4"/>
<rect x="868.5" y="409.1" width="70.2" height="35" fill="#fff" stroke="#111" stroke-width="1.3" stroke-dasharray="6.3 4.4"/>
<rect x="868.5" y="444.1" width="70.2" height="34.6" fill="#33a86f" stroke="#111" stroke-width="1.25" stroke-dasharray="5.2 2.9"/>
<rect x="868.5" y="478.7" width="26.3" height="34.4" fill="#803f8f" stroke="#111" stroke-width="1.25" stroke-dasharray="5.2 2.9"/>
<text x="873.2" y="431.3" style="font-size:14.8px">No Laser</text>
<use href="#spkQ" x="882.5" y="461"/>
<use href="#syr" transform="translate(724.4,497.1) scale(0.868,0.87)"/>
<text x="771.1" y="502.3" style="font-size:14.7px;fill:#fff">Cocaine</text>
<path d="M866.8,538.6 V530 H951.6 V538.6" fill="none" stroke="#000" stroke-width="1.45"/>
<text x="908.3" y="558.1" text-anchor="middle" class="t28">10 s</text>
<!-- right of right chamber: Laser + cucrose -->
<text x="1316" y="347.5" text-anchor="middle" style="font-size:24.6px">Laser</text>
<text x="1316" y="370.3" text-anchor="middle" style="font-size:24.6px">+</text>
<text x="1315.4" y="388.7" text-anchor="middle" style="font-size:24.6px">cucrose</text>
<line x1="1265" y1="398.3" x2="1360.4" y2="398.3" stroke="#000" stroke-width="1.6" marker-end="url(#ah)"/>
<use href="#discB" x="1245" y="399"/>
<rect x="1266.1" y="408.9" width="71.8" height="33.7" fill="#29a3dc" stroke="#111" stroke-width="1.25" stroke-dasharray="5.2 2.9"/>
<rect x="1266.1" y="442.6" width="71.8" height="35.3" fill="#33a86f" stroke="#111" stroke-width="1.25" stroke-dasharray="5.2 2.9"/>
<text x="1275.8" y="433.3" style="font-size:18.4px">473nm</text>
<use href="#spkL" x="1272.3" y="460.4"/>
<use href="#pellet" transform="translate(1278.4,494.5) scale(0.647)"/>
<path d="M1266.1,538.9 V530.1 H1351 V538.9" fill="none" stroke="#000" stroke-width="1.45"/>
<text x="1307.6" y="562" text-anchor="middle" class="t28">10 s</text>
<text x="-2" y="23" class="lbl">a</text>

<text x="-1" y="676.4" class="lbl">b</text>
<text x="234.8 253.7" y="695.7" style="font-size:41px">**</text>
<line x1="182" y1="689.3" x2="328.5" y2="689.3" stroke="#000" stroke-width="1.2"/>
<path d="M114.5,704.8 V1008 H384.2" fill="none" stroke="#000" stroke-width="1.3"/>
<path d="M416.7,1008 H691" fill="none" stroke="#000" stroke-width="1.3"/>
<line x1="106.8" y1="706.3" x2="114.5" y2="706.3" stroke="#000" stroke-width="1.3"/>
<text x="96" y="716.3" text-anchor="end" class="t28">12</text>
<line x1="106.8" y1="806.9" x2="114.5" y2="806.9" stroke="#000" stroke-width="1.3"/>
<text x="96" y="816.9" text-anchor="end" class="t28">8</text>
<line x1="106.8" y1="907.5" x2="114.5" y2="907.5" stroke="#000" stroke-width="1.3"/>
<text x="96" y="917.5" text-anchor="end" class="t28">4</text>
<line x1="106.8" y1="1008" x2="114.5" y2="1008" stroke="#000" stroke-width="1.3"/>
<text x="96" y="1018" text-anchor="end" class="t28">0</text>
<line x1="184.1" y1="1008" x2="184.1" y2="1016.8" stroke="#000" stroke-width="1.3"/>
<line x1="328.5" y1="1008" x2="328.5" y2="1016.8" stroke="#000" stroke-width="1.3"/>
<line x1="481.2" y1="1008" x2="481.2" y2="1016.8" stroke="#000" stroke-width="1.3"/>
<line x1="632.2" y1="1008" x2="632.2" y2="1016.8" stroke="#000" stroke-width="1.3"/>
<text x="180.4" y="1048.8" text-anchor="middle" class="t28">Laser +</text>
<text x="183.7" y="1083.9" text-anchor="middle" class="t28">reward</text>
<text x="327.1" y="1048.8" text-anchor="middle" class="t28">Reward</text>
<text x="330.3" y="1083.9" text-anchor="middle" class="t28">alone</text>
<text x="479.4" y="1048.8" text-anchor="middle" class="t28">Laser +</text>
<text x="482.7" y="1083.9" text-anchor="middle" class="t28">reward</text>
<text x="631.6" y="1048.8" text-anchor="middle" class="t28">Reward</text>
<text x="635.4" y="1083.9" text-anchor="middle" class="t28">alone</text>
<text x="243.4" y="1126" text-anchor="middle" class="t28">ChR2</text>
<text x="566.4" y="1126" text-anchor="middle" class="t28 gray">eYFP</text>
<text transform="translate(47,851.8) rotate(-90)" text-anchor="middle" class="t28"># Rewards earned/2 h</text>
<line x1="186" y1="706.9" x2="334.3" y2="1005" stroke="#999" stroke-width="0.8"/>
<line x1="167" y1="735.9" x2="323.5" y2="981.5" stroke="#999" stroke-width="0.8"/>
<line x1="183.8" y1="735.9" x2="333.2" y2="981.5" stroke="#999" stroke-width="0.8"/>
<line x1="170.5" y1="758" x2="345.6" y2="982.4" stroke="#999" stroke-width="0.8"/>
<line x1="186" y1="758" x2="345.6" y2="1005" stroke="#999" stroke-width="0.8"/>
<line x1="198.4" y1="758" x2="317.5" y2="981.5" stroke="#999" stroke-width="0.8"/>
<line x1="171" y1="780.4" x2="297.3" y2="982.4" stroke="#999" stroke-width="0.8"/>
<line x1="183.8" y1="780.4" x2="308.5" y2="981" stroke="#999" stroke-width="0.8"/>
<line x1="195" y1="780.4" x2="313.2" y2="958.5" stroke="#999" stroke-width="0.8"/>
<line x1="186" y1="803" x2="333.6" y2="907.4" stroke="#999" stroke-width="0.8"/>
<line x1="185.5" y1="829.8" x2="317.5" y2="1005" stroke="#999" stroke-width="0.8"/>
<circle cx="167" cy="735.9" r="10" fill="#fdecb8" stroke="#b5aa86" stroke-width="0.6"/>
<circle cx="183.8" cy="735.9" r="10" fill="#fdecb8" stroke="#b5aa86" stroke-width="0.6"/>
<rect x="176.5" y="749.0" width="19" height="17.5" fill="#803f8f" stroke="#5b2d66" stroke-width="0.5"/>
<rect x="188.9" y="749.0" width="19" height="17.5" fill="#803f8f" stroke="#5b2d66" stroke-width="0.5"/>
<circle cx="170.5" cy="758" r="10" fill="#fdecb8" stroke="#b5aa86" stroke-width="0.6"/>
<rect x="161.5" y="771.4" width="19" height="17.5" fill="#803f8f" stroke="#5b2d66" stroke-width="0.5"/>
<rect x="174.3" y="771.4" width="19" height="17.5" fill="#803f8f" stroke="#5b2d66" stroke-width="0.5"/>
<circle cx="195" cy="780.4" r="10" fill="#fdecb8" stroke="#b5aa86" stroke-width="0.6"/>
<rect x="176.5" y="697.9" width="19" height="17.5" fill="#803f8f" stroke="#5b2d66" stroke-width="0.5"/>
<rect x="176.5" y="794.0" width="19" height="17.5" fill="#803f8f" stroke="#5b2d66" stroke-width="0.5"/>
<circle cx="185.5" cy="829.8" r="10" fill="#fdecb8" stroke="#b5aa86" stroke-width="0.6"/>
<circle cx="333.6" cy="907.4" r="10" fill="#fdecb8" stroke="#b5aa86" stroke-width="0.6"/>
<circle cx="313.2" cy="958.5" r="10" fill="#fdecb8" stroke="#b5aa86" stroke-width="0.6"/>
<circle cx="323.5" cy="981.5" r="10" fill="#fdecb8" stroke="#b5aa86" stroke-width="0.6"/>
<circle cx="333.2" cy="981.5" r="10" fill="#fdecb8" stroke="#b5aa86" stroke-width="0.6"/>
<circle cx="345.6" cy="982.4" r="10" fill="#fdecb8" stroke="#b5aa86" stroke-width="0.6"/>
<rect x="287.8" y="973.4" width="19" height="17.5" fill="#803f8f" stroke="#5b2d66" stroke-width="0.5"/>
<rect x="299.0" y="972.0" width="19" height="17.5" fill="#803f8f" stroke="#5b2d66" stroke-width="0.5"/>
<rect x="308.0" y="972.5" width="19" height="17.5" fill="#803f8f" stroke="#5b2d66" stroke-width="0.5"/>
<rect x="324.8" y="996.0" width="19" height="17.5" fill="#803f8f" stroke="#5b2d66" stroke-width="0.5"/>
<rect x="336.1" y="996.0" width="19" height="17.5" fill="#803f8f" stroke="#5b2d66" stroke-width="0.5"/>
<circle cx="317.5" cy="1005" r="10" fill="#fdecb8" stroke="#b5aa86" stroke-width="0.6"/>
<line x1="485.3" y1="727.4" x2="632.2" y2="1007.8" stroke="#999" stroke-width="0.8" stroke-dasharray="3 1.6"/>
<line x1="487.1" y1="779.7" x2="632.2" y2="947.7" stroke="#999" stroke-width="0.8" stroke-dasharray="3 1.6"/>
<line x1="480.7" y1="851.9" x2="631" y2="908.5" stroke="#999" stroke-width="0.8" stroke-dasharray="3 1.6"/>
<line x1="469.9" y1="982.6" x2="618.5" y2="907.6" stroke="#999" stroke-width="0.8" stroke-dasharray="3 1.6"/>
<line x1="495.4" y1="982.6" x2="632.2" y2="858.8" stroke="#999" stroke-width="0.8" stroke-dasharray="3 1.6"/>
<circle cx="485.3" cy="727.4" r="10.3" fill="#fdecb8" stroke="#b5aa86" stroke-width="0.6"/>
<rect x="477.9" y="771.0" width="18.5" height="17.0" fill="#803f8f" stroke="#5b2d66" stroke-width="0.5"/>
<circle cx="480.7" cy="851.9" r="10.3" fill="#fdecb8" stroke="#b5aa86" stroke-width="0.6"/>
<rect x="460.6" y="973.9" width="18.5" height="17.0" fill="#803f8f" stroke="#5b2d66" stroke-width="0.5"/>
<rect x="486.1" y="973.9" width="18.5" height="17.0" fill="#803f8f" stroke="#5b2d66" stroke-width="0.5"/>
<circle cx="632.2" cy="858.8" r="10.3" fill="#fdecb8" stroke="#b5aa86" stroke-width="0.6"/>
<circle cx="631" cy="908.5" r="10.3" fill="#fdecb8" stroke="#b5aa86" stroke-width="0.6"/>
<rect x="609.2" y="898.9" width="18.5" height="17.0" fill="#803f8f" stroke="#5b2d66" stroke-width="0.5"/>
<circle cx="632.2" cy="947.7" r="10.3" fill="#fdecb8" stroke="#b5aa86" stroke-width="0.6"/>
<rect x="623.0" y="999.0" width="18.5" height="17.0" fill="#803f8f" stroke="#5b2d66" stroke-width="0.5"/>
<text x="777" y="667.5" class="lbl">c</text>
<text x="1071.1 1090.3" y="693.9" style="font-size:41px">**</text>
<line x1="1034.9" y1="689.6" x2="1150.9" y2="690" stroke="#000" stroke-width="2"/>
<rect x="942.5" y="754.8" width="106.2" height="299.8" fill="#00aeef"/>
<rect x="1123.2" y="885.9" width="103.9" height="168.7" fill="#808285"/>
<path d="M918.3,715 V1054.6 H1255.4" fill="none" stroke="#000" stroke-width="1.3"/>
<line x1="909" y1="718.3" x2="918.3" y2="718.3" stroke="#000" stroke-width="1.3"/>
<text x="895" y="728.3" text-anchor="end" class="t28">100</text>
<line x1="909" y1="795.8" x2="918.3" y2="795.8" stroke="#000" stroke-width="1.3"/>
<line x1="909" y1="881.8" x2="918.3" y2="881.8" stroke="#000" stroke-width="1.3"/>
<text x="895" y="891.8" text-anchor="end" class="t28">50</text>
<line x1="909" y1="967.1" x2="918.3" y2="967.1" stroke="#000" stroke-width="1.3"/>
<line x1="909" y1="1054.6" x2="918.3" y2="1054.6" stroke="#000" stroke-width="1.3"/>
<text x="895" y="1064.6" text-anchor="end" class="t28">0</text>
<line x1="987.2" y1="1054.6" x2="987.2" y2="1063.5" stroke="#000" stroke-width="1.3"/>
<line x1="1180.2" y1="1054.6" x2="1180.2" y2="1063.5" stroke="#000" stroke-width="1.3"/>
<line x1="918.3" y1="881.8" x2="1248" y2="881.8" stroke="#444" stroke-width="1" stroke-dasharray="7 3.5"/>
<text x="986" y="1099" text-anchor="middle" class="t28">ChR2</text>
<text x="1177" y="1099" text-anchor="middle" class="t28 gray">eYFP</text>
<text transform="translate(801.8,887) rotate(-90)" text-anchor="middle" class="t28" style="font-size:29px">% Laser + reward</text>
<text transform="translate(837.8,887) rotate(-90)" text-anchor="middle" class="t28" style="font-size:29px">preference</text>
<circle cx="995.8" cy="718.3" r="11" fill="#fdecb8" stroke="#b5aa86" stroke-width="0.6"/>
<circle cx="977.9" cy="718.3" r="11" fill="#fdecb8" stroke="#b5aa86" stroke-width="0.6"/>
<rect x="961.8" y="733.1" width="21" height="19.5" fill="#803f8f" stroke="#5b2d66" stroke-width="0.5"/>
<rect x="1002.8" y="733.1" width="21" height="19.5" fill="#803f8f" stroke="#5b2d66" stroke-width="0.5"/>
<rect x="998.3" y="746.9" width="21" height="19.5" fill="#803f8f" stroke="#5b2d66" stroke-width="0.5"/>
<circle cx="992.1" cy="741.7" r="11" fill="#fdecb8" stroke="#b5aa86" stroke-width="0.6"/>
<rect x="981.2" y="756.2" width="21" height="19.5" fill="#803f8f" stroke="#5b2d66" stroke-width="0.5"/>
<rect x="996.1" y="760.6" width="21" height="19.5" fill="#803f8f" stroke="#5b2d66" stroke-width="0.5"/>
<circle cx="977.9" cy="782" r="11" fill="#fdecb8" stroke="#b5aa86" stroke-width="0.6"/>
<circle cx="995.8" cy="782" r="11" fill="#fdecb8" stroke="#b5aa86" stroke-width="0.6"/>
<rect x="985.7" y="814.0" width="21" height="19.5" fill="#803f8f" stroke="#5b2d66" stroke-width="0.5"/>
<circle cx="1180.2" cy="766.3" r="11" fill="#fdecb8" stroke="#b5aa86" stroke-width="0.6"/>
<rect x="1169.7" y="784.1" width="21" height="19.5" fill="#803f8f" stroke="#5b2d66" stroke-width="0.5"/>
<circle cx="1180.9" cy="853.5" r="11" fill="#fdecb8" stroke="#b5aa86" stroke-width="0.6"/>
<rect x="1169.7" y="915.6" width="21" height="19.5" fill="#803f8f" stroke="#5b2d66" stroke-width="0.5"/>
<rect x="1169.7" y="952.9" width="21" height="19.5" fill="#803f8f" stroke="#5b2d66" stroke-width="0.5"/>
<text x="-1" y="1196" class="lbl">d</text>
<path d="M150.4,1199 V1823.4" fill="none" stroke="#000" stroke-width="1.3"/>
<path d="M131.9,1823.4 H1240" fill="none" stroke="#000" stroke-width="1.3"/>
<path d="M131.9,1199.1 H150.4 M131.9,1361 H150.4 M131.9,1513.5 H150.4 M131.9,1667.5 H150.4" stroke="#000" stroke-width="1.3"/>
<path d="M270.8,1823.4 V1843.5 M557,1823.4 V1843.5 M797.3,1823.4 V1843.5 M1083.6,1823.4 V1843.5" stroke="#000" stroke-width="1.3"/>
<g class="t28" text-anchor="end">
<text x="120.5" y="1209.3" class="t28">12</text>
<text x="120.5" y="1371.2" class="t28">9</text>
<text x="120.5" y="1523.7" class="t28">6</text>
<text x="120.5" y="1677.7" class="t28">3</text>
<text x="120.5" y="1833.6" class="t28">0</text>
</g>
<text x="270.8" y="1874.6" text-anchor="middle" class="t28">Sucrose</text>
<text x="556" y="1874.6" text-anchor="middle" class="t28">Cocaine</text>
<text x="797.3" y="1874.6" text-anchor="middle" class="t28">Sucrose</text>
<text x="1083.6" y="1874.6" text-anchor="middle" class="t28">Cocaine</text>
<text x="407.2" y="1914.7" text-anchor="middle" class="t28">ChR2</text>
<text x="945.2" y="1914.7" text-anchor="middle" class="t28 gray">eYFP</text>
<text transform="translate(80.5,1513) rotate(-90)" text-anchor="middle" class="t28"># Rewards earned/2 h</text>
<text x="264.1" y="1271.4" style="font-size:37px">*</text>
<text x="533.8 549.8 565.8" y="1271.4" style="font-size:37px">***</text>
<!-- legend -->
<linearGradient id="lgd0" gradientUnits="userSpaceOnUse" x1="928" y1="0" x2="1006" y2="0"><stop offset="0" stop-color="#1caae3"/><stop offset="0.45" stop-color="#3a93b8"/><stop offset="1" stop-color="#808285"/></linearGradient>
<path d="M928.4,1216.6 H1005.8" stroke="url(#lgd0)" stroke-width="3" stroke-dasharray="6.9 4.8" fill="none"/>
<linearGradient id="lgd" gradientUnits="userSpaceOnUse" x1="928" y1="0" x2="1006" y2="0"><stop offset="0" stop-color="#1caae3"/><stop offset="0.5" stop-color="#1b5f7e"/><stop offset="1" stop-color="#231f20"/></linearGradient>
<rect x="928.4" y="1258.9" width="77.4" height="3.8" fill="url(#lgd)"/>
<text x="1017" y="1221.5" class="t28 gray">eYFP</text>
<text x="1017" y="1270.8" class="t28">ChR2</text>
<!-- ChR2 error bars -->
<line x1="269.6" y1="1267.3" x2="269.6" y2="1370" stroke="#1caae3" stroke-width="2.5"/>
<line x1="554.1" y1="1271.3" x2="554.1" y2="1361.6" stroke="#1caae3" stroke-width="2.5"/>
<line x1="272.8" y1="1682.2" x2="272.8" y2="1783.8" stroke="#231f20" stroke-width="2.3"/>
<line x1="553.8" y1="1732.3" x2="553.8" y2="1781" stroke="#231f20" stroke-width="2.3"/>
<!-- crossing lines -->
<line x1="282.1" y1="1333" x2="547.4" y2="1743.8" stroke="url(#gBlueDark)" stroke-width="3.6"/>
<linearGradient id="gBD2" gradientUnits="userSpaceOnUse" x1="0" y1="1325" x2="0" y2="1707"><stop offset="0" stop-color="#22a7e0"/><stop offset="0.45" stop-color="#1b7296"/><stop offset="1" stop-color="#1c2c3a"/></linearGradient>
<line x1="546.6" y1="1325.5" x2="288.8" y2="1707.1" stroke="url(#gBD2)" stroke-width="3.6"/>
<!-- icons -->
<use href="#pellet" transform="translate(268.6,1311.4) scale(1.2)"/>
<use href="#pellet" transform="translate(271.5,1725.8) scale(1.2)"/>
<use href="#syr" transform="translate(475,1314.2) scale(0.95,0.98)"/>
<text x="525.2" y="1320.5" style="font-size:16.7px;fill:#fff">Cocaine</text>
<use href="#syr" transform="translate(479.3,1755.8) scale(0.95,0.96)"/>
<text x="529" y="1759.9" style="font-size:16.6px;fill:#fff">Cocaine</text>
<use href="#rat" transform="translate(160,1365) scale(0.10029)"/>
<use href="#rat" transform="translate(474.2,1482) scale(0.10029)"/>
<!-- italic labels -->
<g class="it">
<text x="259.2" y="1476.8" text-anchor="middle" class="it">Laser + sucrose</text>
<text x="259.2" y="1509.3" text-anchor="middle" class="it">rats</text>
<text x="584.2" y="1451.7" text-anchor="middle" class="it">Laser + cocaine</text>
<text x="580.7" y="1484.3" text-anchor="middle" class="it">rats</text>
<text x="255.7" y="1602.1" text-anchor="middle" class="it">Sucrose alone</text>
<text x="596.7" y="1644.7" text-anchor="middle" class="it">Cocaine alone</text>
<text x="972.8" y="1466" text-anchor="middle" class="it">Laser + sucrose</text>
<text x="972.8" y="1498.7" text-anchor="middle" class="it">rats</text>
<text x="916.6" y="1666.3" text-anchor="middle" class="it">Laser + cocaine</text>
<text x="912.6" y="1698.8" text-anchor="middle" class="it">rats</text>
</g>
<g stroke="#000" stroke-width="1.3" fill="none">
<line x1="309.9" y1="1445.8" x2="335" y2="1428.3" marker-end="url(#ah2)"/>
<line x1="526.5" y1="1427.3" x2="503" y2="1410.7" marker-end="url(#ah2)"/>
<line x1="293.3" y1="1612.3" x2="320.9" y2="1626.4" marker-end="url(#ah2)"/>
<line x1="549" y1="1657.4" x2="525.5" y2="1674" marker-end="url(#ah2)"/>
<line x1="907.6" y1="1474.9" x2="886.5" y2="1496" marker-end="url(#ah2)"/>
<line x1="897.6" y1="1638.9" x2="913.1" y2="1618.8" marker-end="url(#ah2)"/>
</g>
<!-- eYFP -->
<line x1="798.8" y1="1350.6" x2="798.8" y2="1584" stroke="#1caae3" stroke-width="2.6" stroke-dasharray="7.8 4.4"/>
<line x1="798.8" y1="1541" x2="798.8" y2="1586" stroke="#6d6e71" stroke-width="2.6" stroke-dasharray="7.8 4.4"/>
<line x1="798.8" y1="1643.9" x2="798.8" y2="1695.6" stroke="#6d6e71" stroke-width="2.6" stroke-dasharray="7.8 4.4"/>
<line x1="1087.1" y1="1552.6" x2="1087.1" y2="1678" stroke="#1caae3" stroke-width="2.6" stroke-dasharray="7.8 4.4"/>
<line x1="1087.1" y1="1640" x2="1087.1" y2="1733.2" stroke="#6d6e71" stroke-width="2.6" stroke-dasharray="7.8 4.4"/>
<linearGradient id="ge1" gradientUnits="userSpaceOnUse" x1="827" y1="1482" x2="1072" y2="1676"><stop offset="0" stop-color="#22a7e0"/><stop offset="0.55" stop-color="#2b93bf"/><stop offset="1" stop-color="#77787b"/></linearGradient>
<linearGradient id="ge2" gradientUnits="userSpaceOnUse" x1="827" y1="1606" x2="1045" y2="1616"><stop offset="0" stop-color="#77787b"/><stop offset="0.5" stop-color="#4f8fae"/><stop offset="1" stop-color="#22a7e0"/></linearGradient>
<line x1="827.4" y1="1482" x2="1072" y2="1676.5" stroke="url(#ge1)" stroke-width="3" stroke-dasharray="7.8 4.4"/>
<line x1="827.4" y1="1606.3" x2="1044.5" y2="1616.3" stroke="url(#ge2)" stroke-width="3" stroke-dasharray="7.8 4.4"/>
<use href="#pellet" transform="translate(798.1,1459.6) scale(1.186)"/>
<use href="#pellet" transform="translate(798.1,1605.9) scale(1.186)"/>
<use href="#syr" transform="translate(1005.5,1619.2) scale(0.955,0.97)"/>
<text x="1055.7" y="1623.2" style="font-size:16.6px;fill:#fff">Cocaine</text>
<use href="#syr" transform="translate(1005.5,1689.2) scale(0.955,0.97)"/>
<text x="1055.4" y="1692.7" style="font-size:16.6px;fill:#fff">Cocaine</text>

</svg>
</body>
</html>
